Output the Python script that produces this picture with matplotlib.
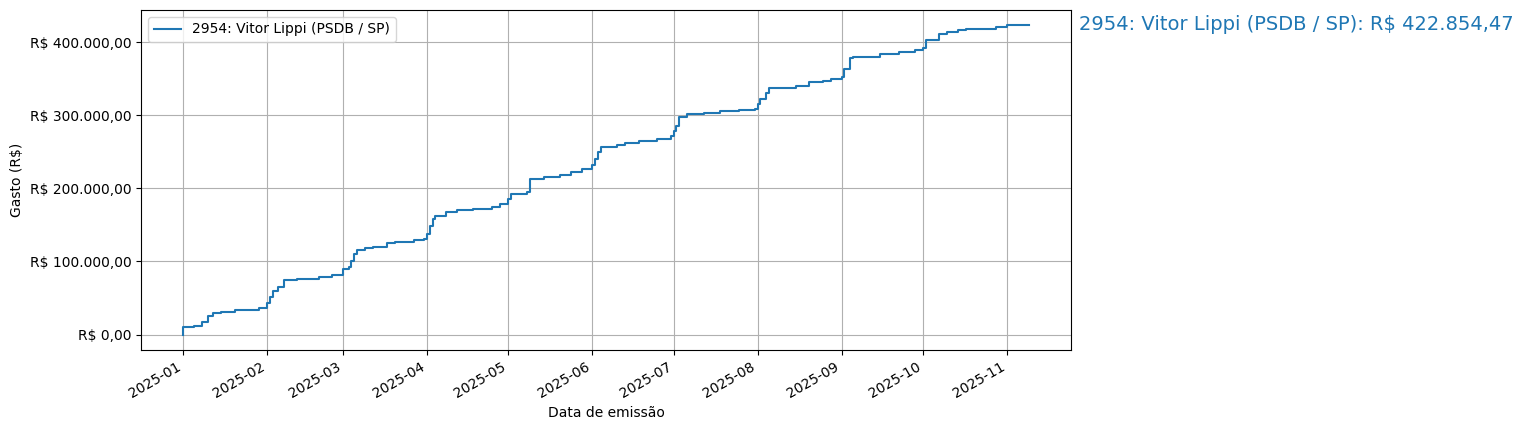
import matplotlib
matplotlib.use("Agg")
import matplotlib.pyplot as plt
import matplotlib.dates as mdates
from matplotlib.ticker import FuncFormatter
import pandas as pd

dates = ["2025-01-01","2025-01-05","2025-01-08","2025-01-10","2025-01-12","2025-01-15","2025-01-20","2025-01-28","2025-01-29",
"2025-02-01","2025-02-02","2025-02-03","2025-02-05","2025-02-07","2025-02-12","2025-02-20","2025-02-25",
"2025-03-01","2025-03-03","2025-03-04","2025-03-05","2025-03-06","2025-03-09","2025-03-12","2025-03-17","2025-03-20","2025-03-27","2025-03-31",
"2025-04-01","2025-04-02","2025-04-03","2025-04-04","2025-04-08","2025-04-12","2025-04-18","2025-04-25","2025-04-28",
"2025-05-01","2025-05-02","2025-05-08","2025-05-09","2025-05-14","2025-05-20","2025-05-24","2025-05-28",
"2025-06-01","2025-06-02","2025-06-03","2025-06-04","2025-06-10","2025-06-13","2025-06-18","2025-06-25","2025-06-30",
"2025-07-01","2025-07-02","2025-07-03","2025-07-06","2025-07-12","2025-07-18","2025-07-25","2025-07-31",
"2025-08-01","2025-08-02","2025-08-04","2025-08-05","2025-08-15","2025-08-20","2025-08-25","2025-08-28",
"2025-09-01","2025-09-02","2025-09-04","2025-09-05","2025-09-15","2025-09-22","2025-09-28",
"2025-10-01","2025-10-02","2025-10-07","2025-10-10","2025-10-14","2025-10-17","2025-10-28",
"2025-11-01","2025-11-09"]
values = [11000,12000,17000,25000,30000,31000,33000,34000,37000,
43000,52000,60000,65000,74000,76000,79000,82000,
89000,93000,100000,110000,115000,118000,120000,125000,127000,129000,131000,
138000,148000,158000,162000,168000,170000,172000,174000,178000,
185000,192000,195000,213000,216000,218000,222000,226000,
232000,240000,250000,257000,259000,262000,265000,268000,271000,
278000,285000,298000,301000,303000,306000,307000,308000,
315000,322000,330000,337000,340000,345000,347000,350000,
352000,363000,378000,380000,384000,386000,389000,
392000,403000,411000,414000,416000,418000,420000,
422854.47,422854.47]
label = "2954: Vitor Lippi (PSDB / SP)"
total_text = "2954: Vitor Lippi (PSDB / SP): R$ 422.854,47"

x = pd.to_datetime(["2025-01-01"] + dates)
y = [0] + values

fig = plt.figure(figsize=(15.23, 4.3), dpi=100)
ax = fig.add_axes([0.0926, 0.186, 0.6106, 0.791])
ax.plot(x, y, drawstyle="steps-post", label=label, color="C0")

def brl(v, pos):
    s = f"{v:,.2f}".replace(",", "X").replace(".", ",").replace("X", ".")
    return "R$ " + s
ax.yaxis.set_major_formatter(FuncFormatter(brl))
ax.set_yticks([0, 100000, 200000, 300000, 400000])
ax.xaxis.set_major_locator(mdates.MonthLocator())
ax.xaxis.set_major_formatter(mdates.DateFormatter("%Y-%m"))
for lab in ax.get_xticklabels():
    lab.set_rotation(30); lab.set_ha("right")
ax.grid(True)
ax.set_xlabel("Data de emissão")
ax.set_ylabel("Gasto (R$)")
ax.legend(loc="upper left")
fig.text(1079/1523, 1 - 25/430, total_text, color="C0", fontsize=14, va="center", ha="left")
fig.savefig("out.png")
